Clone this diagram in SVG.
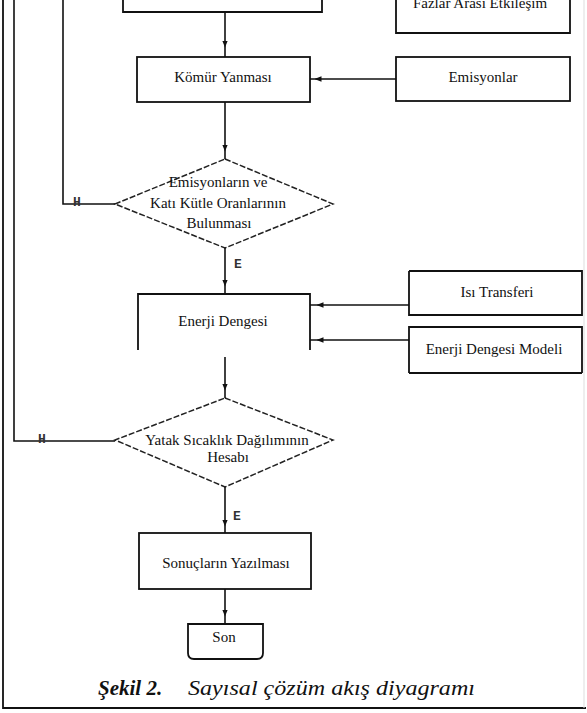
<svg xmlns="http://www.w3.org/2000/svg" width="587" height="713" viewBox="0 0 587 713">
<defs>
<style>
.ln{fill:none;stroke:#111;stroke-width:1.6}
.bx{fill:none;stroke:#111;stroke-width:1.8}
.dm{fill:none;stroke:#222;stroke-width:1.5;stroke-dasharray:6 2}
.t{font-family:"Liberation Serif","Times New Roman",serif;font-size:15px;fill:#111;text-anchor:middle}
.lb{font-family:"Liberation Mono","Courier New",monospace;font-size:13px;font-weight:bold;fill:#333;text-anchor:middle}
.cap{font-family:"Liberation Serif","Times New Roman",serif;font-size:21px;font-style:italic;fill:#111}
</style>
<marker id="ah" viewBox="0 0 10 10" refX="5" refY="5" markerWidth="7" markerHeight="7" orient="auto" markerUnits="userSpaceOnUse">
<path d="M0,1 L10,5 L0,9 Z" fill="#111"/>
</marker>
</defs>
<rect width="587" height="713" fill="#fff"/>
<g id="frame">
<path class="bx" d="M3,0 V708 H586" stroke-width="2.2"/>
<path d="M584,0 V708" stroke="#ddd" stroke-width="1" fill="none"/>
</g>
<g id="n-top">
<path class="bx" d="M123,0 V12 H322 V0"/>
</g>
<g id="n-fazlar">
<path class="bx" d="M396,0 V33 H570 V0"/>
<text class="t" x="480" y="8">Fazlar Arası Etkileşim</text>
</g>
<g id="n-komur">
<rect class="bx" x="137" y="57" width="173" height="45"/>
<text class="t" x="223" y="82">Kömür Yanması</text>
</g>
<g id="n-emisyonlar">
<rect class="bx" x="396" y="57" width="174" height="44"/>
<text class="t" x="483" y="82">Emisyonlar</text>
</g>
<g id="n-karar1">
<path class="dm" d="M225,159 L333,204 L225,248 L115,204 Z"/>
<text class="t" x="218" y="187">Emisyonların ve</text>
<text class="t" x="218" y="208">Katı Kütle Oranlarının</text>
<text class="t" x="219" y="228">Bulunması</text>
</g>
<g id="n-enerji">
<path class="bx" d="M138,350 V294 H310 V350"/>
<text class="t" x="223" y="326">Enerji Dengesi</text>
</g>
<g id="n-isi">
<path class="bx" d="M409,271 V315 H582 V271 H409"/>
<text class="t" x="497" y="297">Isı Transferi</text>
</g>
<g id="n-model">
<path class="bx" d="M409,373 V327 H582 V373"/>
<path class="bx" d="M409,373 H582" stroke-width="1.4"/>
<text class="t" x="494" y="354">Enerji Dengesi Modeli</text>
</g>
<g id="n-karar2">
<path class="dm" d="M225,398 L333,440 L225,487 L115,440 Z"/>
<text class="t" x="227" y="445">Yatak Sıcaklık Dağılımının</text>
<text class="t" x="228" y="462">Hesabı</text>
</g>
<g id="n-sonuc">
<rect class="bx" x="139" y="533" width="172" height="56"/>
<text class="t" x="226" y="568">Sonuçların Yazılması</text>
</g>
<g id="n-son">
<path class="bx" d="M188,624 H263 V653 Q263,659 257,659 H194 Q188,659 188,653 Z"/>
<text class="t" x="224" y="642">Son</text>
</g>
<g id="connectors">
<path class="ln" d="M225,12 V44 V57" marker-mid="url(#ah)"/>
<path class="ln" d="M396,79 H318 H310" marker-mid="url(#ah)"/>
<path class="ln" d="M225,102 V148 V159" marker-mid="url(#ah)"/>
<path class="ln" d="M115,204 H63 V0"/>
<path class="ln" d="M225,248 V283 V294" marker-mid="url(#ah)"/>
<path class="ln" d="M409,305 H320 H310" marker-mid="url(#ah)"/>
<path class="ln" d="M409,340 H320 H310" marker-mid="url(#ah)"/>
<path class="ln" d="M225,357 V387 V398" marker-mid="url(#ah)"/>
<path class="ln" d="M115,441 H14 V0"/>
<path class="ln" d="M225,487 V523 V533" marker-mid="url(#ah)"/>
<path class="ln" d="M225,589 V613 V624" marker-mid="url(#ah)"/>
<text class="lb" x="77" y="206">H</text>
<text class="lb" x="238" y="268">E</text>
<text class="lb" x="42" y="443">H</text>
<text class="lb" x="237" y="520">E</text>
</g>
<g id="caption">
<text class="cap" x="98" y="695" font-weight="bold">Şekil 2.</text>
<text class="cap" x="188" y="695" textLength="287" lengthAdjust="spacingAndGlyphs">Sayısal çözüm akış diyagramı</text>
</g>
</svg>
